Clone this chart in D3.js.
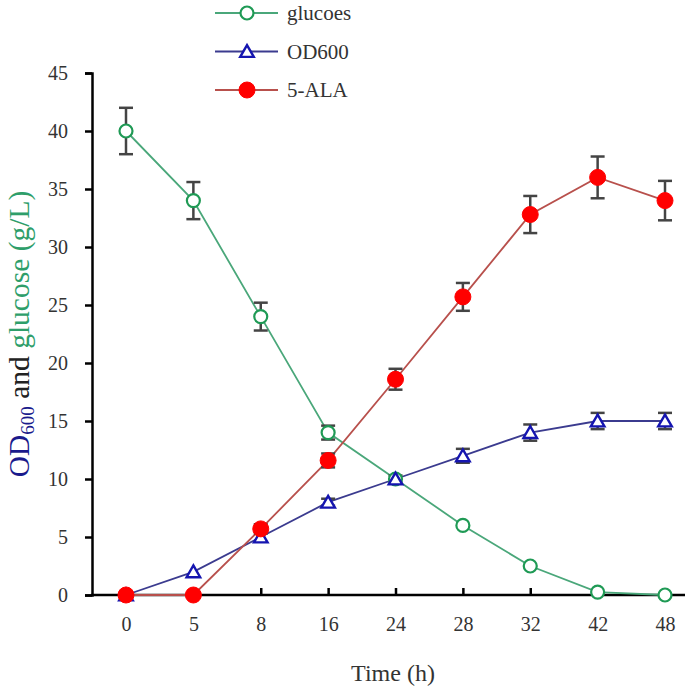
<!DOCTYPE html>
<html><head><meta charset="utf-8">
<script src="https://cdn.jsdelivr.net/npm/d3@7"></script>
<style>body{margin:0;background:#fff}svg{display:block}</style>
</head><body>
<script>
const times = ["0","5","8","16","24","28","32","42","48"];
const glucose = [40,34,24,14,10,6,2.5,0.25,0];
const glucoseErr = [2,1.6,1.2,0.6,0,0,0,0,0];
const od600 = [0,2,5,8,10,12,14,15,15];
const od600Err = [0,0,0,0.3,0.3,0.6,0.7,0.7,0.7];
const ala = [0,0,5.7,11.6,18.6,25.7,32.8,36,34];
const alaErr = [0,0,0.4,0.6,0.9,1.2,1.6,1.8,1.7];
const yTicks = [0,5,10,15,20,25,30,35,40,45];
const legendLabels = ["glucoes","OD600","5-ALA"];

const W=685,H=691;
const svg=d3.select("body").append("svg").attr("width",W).attr("height",H);
const x=d3.scalePoint().domain(times).range([126,665]);
const y=d3.scaleLinear().domain([0,45]).range([595,73]);
const font="'Liberation Serif','Times New Roman',serif";
const txt="#333";

// axes
const xAxis=svg.append("g").attr("transform","translate(0,595)")
  .call(d3.axisBottom(x).tickSizeInner(-7).tickSizeOuter(0).tickPadding(22));
xAxis.select(".domain").remove();
svg.append("line").attr("x1",91).attr("x2",685).attr("y1",595).attr("y2",595).attr("stroke","#000").attr("stroke-width",2.5);
xAxis.selectAll(".tick line").attr("stroke","#000").attr("stroke-width",2.5);
xAxis.selectAll("text").attr("font-family",font).attr("font-size",20).attr("fill",txt);

const yAxis=svg.append("g").attr("transform","translate(92,0)")
  .call(d3.axisLeft(y).tickValues(yTicks).tickSizeInner(7).tickSizeOuter(7).tickPadding(17));
yAxis.select(".domain").attr("stroke","#000").attr("stroke-width",2.5);
yAxis.selectAll(".tick line").attr("stroke","#000").attr("stroke-width",2.5);
yAxis.selectAll("text").attr("font-family",font).attr("font-size",20).attr("fill",txt);

// axis titles
svg.append("text").attr("x",393).attr("y",681).attr("text-anchor","middle")
  .attr("font-family",font).attr("font-size",24).attr("fill",txt).text("Time (h)");
const yt=svg.append("text").attr("transform","translate(29,334) rotate(-90)").attr("text-anchor","middle")
  .attr("font-family",font).attr("font-size",29.5);
yt.append("tspan").attr("fill","#1a1a8c").text("OD");
yt.append("tspan").attr("fill","#1a1a8c").attr("font-size",19).attr("dy",5).text("600");
yt.append("tspan").attr("fill","#222").attr("dy",-5).text(" and ");
yt.append("tspan").attr("fill","#2e9e6a").text("glucose (g/L)");

const series=[
  {vals:glucose,err:glucoseErr,line:"#4aa77a",mk:"circle",stroke:"#1f9a55",fill:"#fff"},
  {vals:od600,err:od600Err,line:"#3b3b8f",mk:"tri",stroke:"#1515b0",fill:"#fff"},
  {vals:ala,err:alaErr,line:"#b8504c",mk:"dot",stroke:"#ff0000",fill:"#ff0000"}
];
const line=d3.line().x((d,i)=>x(times[i])).y(d=>y(d));

function marker(g,s,cx,cy){
  if(s.mk==="circle") g.append("circle").attr("cx",cx).attr("cy",cy).attr("r",6.5).attr("fill","#fff").attr("stroke",s.stroke).attr("stroke-width",2.2);
  else if(s.mk==="dot") g.append("circle").attr("cx",cx).attr("cy",cy).attr("r",8).attr("fill",s.fill).attr("stroke",s.stroke).attr("stroke-width",1);
  else g.append("path").attr("d",d3.symbol(d3.symbolTriangle,80)()).attr("transform",`translate(${cx},${cy+1.5})`).attr("fill","#fff").attr("stroke",s.stroke).attr("stroke-width",2.4);
}

series.forEach(s=>{
  svg.append("path").datum(s.vals).attr("d",line).attr("fill","none").attr("stroke",s.line).attr("stroke-width",1.8);
});
series.forEach(s=>{
  const g=svg.append("g");
  s.vals.forEach((v,i)=>{
    const e=s.err[i]; if(!e) return;
    const cx=x(times[i]);
    g.append("line").attr("x1",cx).attr("x2",cx).attr("y1",y(v-e)).attr("y2",y(v+e)).attr("stroke","#444").attr("stroke-width",2.5);
    [v-e,v+e].forEach(t=>g.append("line").attr("x1",cx-7).attr("x2",cx+7).attr("y1",y(t)).attr("y2",y(t)).attr("stroke","#444").attr("stroke-width",2.5));
  });
});
series.forEach(s=>{
  const g=svg.append("g");
  s.vals.forEach((v,i)=>marker(g,s,x(times[i]),y(v)));
});

// legend
const lg=svg.append("g");
legendLabels.forEach((l,i)=>{
  const yy=13+i*38.5, s=series[i];
  lg.append("line").attr("x1",215).attr("x2",278).attr("y1",yy).attr("y2",yy).attr("stroke",s.line).attr("stroke-width",1.8);
  marker(lg,s,247,yy);
  lg.append("text").attr("x",287).attr("y",yy+7).attr("font-family",font).attr("font-size",21).attr("fill",txt).text(l);
});
</script>
</body></html>
